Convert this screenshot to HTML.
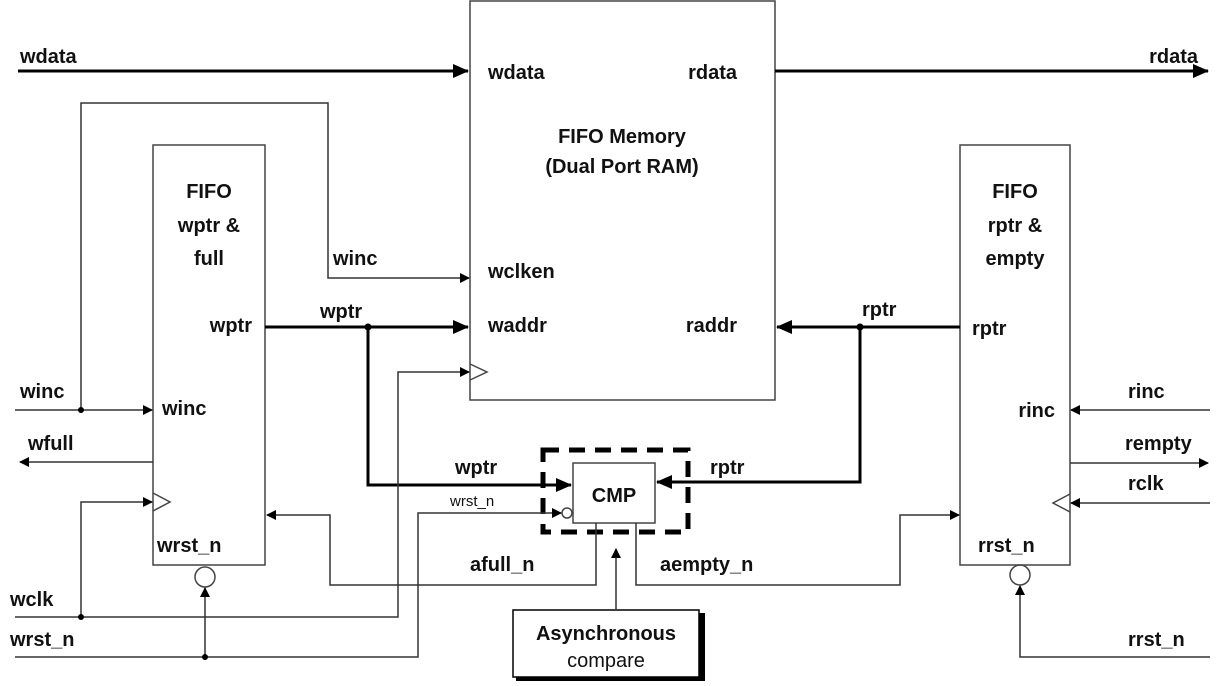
<!DOCTYPE html>
<html><head><style>
html,body{margin:0;padding:0;background:#fff;}
svg{display:block;}
text{font-family:"Liberation Sans",Arial,sans-serif;font-weight:bold;font-size:20px;fill:#111;}
</style></head><body>
<svg width="1226" height="686" viewBox="0 0 1226 686" xmlns="http://www.w3.org/2000/svg">
<defs>
<marker id="a" markerWidth="10" markerHeight="10" refX="9" refY="5" orient="auto" markerUnits="userSpaceOnUse"><path d="M0,0 L10,5 L0,10 z" fill="#000"/></marker>
<marker id="b" markerWidth="16" markerHeight="14" refX="15" refY="7" orient="auto" markerUnits="userSpaceOnUse"><path d="M0,0 L16,7 L0,14 z" fill="#000"/></marker>
</defs>
<g fill="none" stroke="#444" stroke-width="1.5">
<rect x="470" y="1" width="305" height="399"/>
<rect x="153" y="145" width="112" height="420"/>
<rect x="960" y="145" width="110" height="420"/>
<rect x="573" y="463" width="82" height="60"/>
<path d="M153,493 L170,502 L153,511" />
<path d="M470,364 L487,372 L470,380" />
<path d="M1070,494 L1053,503 L1070,512" />
<circle cx="205" cy="577" r="10"/>
<circle cx="1020" cy="575" r="10"/>
<circle cx="567" cy="513" r="5"/>
</g>
<rect x="543" y="450" width="145" height="82" fill="none" stroke="#000" stroke-width="5" stroke-dasharray="16,10"/>
<rect x="516" y="613" width="189" height="68" fill="#000"/>
<rect x="513" y="610" width="186" height="67" fill="#fff" stroke="#000" stroke-width="1.5"/>
<g fill="none" stroke="#000" stroke-width="3">
<path d="M18,71 H468" marker-end="url(#b)"/>
<path d="M775,71 H1208" marker-end="url(#b)"/>
<path d="M265,327 H468" marker-end="url(#b)"/>
<path d="M368,327 V485 H571" marker-end="url(#b)"/>
<path d="M960,327 H777" marker-end="url(#b)"/>
<path d="M860,327 V482 H657" marker-end="url(#b)"/>
</g>
<g fill="none" stroke="#333" stroke-width="1.5">
<path d="M81,410 V103 H328 V278 H469" marker-end="url(#a)"/>
<path d="M15,410 H152" marker-end="url(#a)"/>
<path d="M153,462 H20" marker-end="url(#a)"/>
<path d="M15,617 H398 V372 H469" marker-end="url(#a)"/>
<path d="M81,617 V502 H152" marker-end="url(#a)"/>
<path d="M15,657 H418 V513 H561" marker-end="url(#a)"/>
<path d="M205,657 V588" marker-end="url(#a)"/>
<path d="M596,523 V585 H330 V515 H267" marker-end="url(#a)"/>
<path d="M636,523 V585 H900 V515 H959" marker-end="url(#a)"/>
<path d="M616,610 V549" marker-end="url(#a)"/>
<path d="M1210,410 H1071" marker-end="url(#a)"/>
<path d="M1070,463 H1208" marker-end="url(#a)"/>
<path d="M1210,503 H1071" marker-end="url(#a)"/>
<path d="M1210,657 H1020 V586" marker-end="url(#a)"/>
</g>
<g fill="#000">
<circle cx="368" cy="327" r="3.5"/><circle cx="860" cy="327" r="3.5"/>
<circle cx="81" cy="410" r="3"/><circle cx="81" cy="617" r="3"/><circle cx="205" cy="657" r="3"/>
</g>
<text x="20" y="63">wdata</text>
<text x="1198" y="63" text-anchor="end">rdata</text>
<text x="488" y="79">wdata</text>
<text x="737" y="79" text-anchor="end">rdata</text>
<text x="622" y="143" text-anchor="middle">FIFO Memory</text>
<text x="622" y="173" text-anchor="middle">(Dual Port RAM)</text>
<text x="488" y="278">wclken</text>
<text x="488" y="332">waddr</text>
<text x="737" y="332" text-anchor="end">raddr</text>
<text x="209" y="198" text-anchor="middle">FIFO</text>
<text x="209" y="232" text-anchor="middle">wptr &amp;</text>
<text x="209" y="265" text-anchor="middle">full</text>
<text x="252" y="332" text-anchor="end">wptr</text>
<text x="162" y="415">winc</text>
<text x="157" y="552">wrst_n</text>
<text x="333" y="265">winc</text>
<text x="320" y="318">wptr</text>
<text x="455" y="474">wptr</text>
<text x="450" y="506" style="font-size:15px;font-weight:normal">wrst_n</text>
<text x="470" y="571">afull_n</text>
<text x="660" y="571">aempty_n</text>
<text x="614" y="502" text-anchor="middle">CMP</text>
<text x="606" y="640" text-anchor="middle">Asynchronous</text>
<text x="606" y="667" text-anchor="middle" style="font-weight:normal">compare</text>
<text x="710" y="474">rptr</text>
<text x="862" y="316">rptr</text>
<text x="972" y="335">rptr</text>
<text x="1015" y="198" text-anchor="middle">FIFO</text>
<text x="1015" y="232" text-anchor="middle">rptr &amp;</text>
<text x="1015" y="265" text-anchor="middle">empty</text>
<text x="1055" y="417" text-anchor="end">rinc</text>
<text x="978" y="552">rrst_n</text>
<text x="20" y="398">winc</text>
<text x="28" y="450">wfull</text>
<text x="10" y="606">wclk</text>
<text x="10" y="646">wrst_n</text>
<text x="1128" y="398">rinc</text>
<text x="1125" y="450">rempty</text>
<text x="1128" y="490">rclk</text>
<text x="1128" y="646">rrst_n</text>
</svg>
</body></html>
